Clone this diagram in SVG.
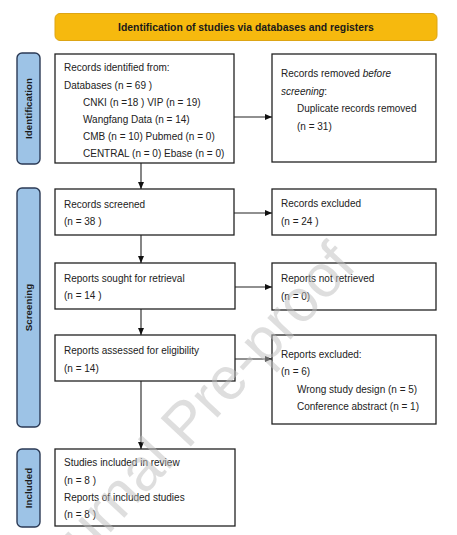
<svg xmlns="http://www.w3.org/2000/svg" width="457" height="535" viewBox="0 0 457 535">
<defs>
<marker id="ah" markerWidth="7" markerHeight="6" refX="7" refY="3" orient="auto" markerUnits="userSpaceOnUse">
<path d="M0,0 L7,3 L0,6 Z" fill="#111"/>
</marker>
<style>
.box{fill:#fff;stroke:#222;stroke-width:1.3}
.side{fill:#9dc3e6;stroke:#2b3a55;stroke-width:1.4}
.t{font-family:"Liberation Sans",Arial,sans-serif;font-size:10px;fill:#222}
.st{font-family:"Liberation Sans",Arial,sans-serif;font-size:9.8px;font-weight:bold;fill:#1a1a1a}
.bt{font-family:"Liberation Sans",Arial,sans-serif;font-size:10.4px;font-weight:bold;fill:#1a1a1a}
.c{stroke:#222;stroke-width:1.1;fill:none;marker-end:url(#ah)}
</style>
</defs>
<rect width="457" height="535" fill="#fff"/>
<g id="banner">
<rect x="55" y="13.5" width="382" height="27" rx="5" fill="#f6b90e" stroke="#dda515" stroke-width="1"/>
<text class="bt" x="246" y="31" text-anchor="middle">Identification of studies via databases and registers</text>
</g>
<g id="side-identification">
<rect class="side" x="17" y="53" width="23" height="111" rx="5"/>
<text class="st" transform="translate(32,108.5) rotate(-90)" text-anchor="middle">Identification</text>
</g>
<g id="side-screening">
<rect class="side" x="17" y="188" width="23" height="239" rx="5"/>
<text class="st" transform="translate(32,307.5) rotate(-90)" text-anchor="middle">Screening</text>
</g>
<g id="side-included">
<rect class="side" x="17" y="449" width="23" height="78" rx="5"/>
<text class="st" transform="translate(32,488) rotate(-90)" text-anchor="middle">Included</text>
</g>
<g id="records-identified">
<rect class="box" x="55" y="54" width="179" height="109"/>
<text class="t" x="64" y="71.2">Records identified from:</text>
<text class="t" x="64" y="88.5">Databases (n = 69 )</text>
<text class="t" x="83" y="105.8">CNKI (n =18 ) VIP (n = 19)</text>
<text class="t" x="83" y="122.8">Wangfang Data (n = 14)</text>
<text class="t" x="83" y="140.2">CMB (n = 10) Pubmed (n = 0)</text>
<text class="t" x="83" y="157.2">CENTRAL (n = 0) Ebase (n = 0)</text>
</g>
<g id="records-removed">
<rect class="box" x="272" y="54" width="164" height="108"/>
<text class="t" x="281" y="77.2">Records removed <tspan font-style="italic">before</tspan></text>
<text class="t" x="281" y="94.5"><tspan font-style="italic">screening</tspan>:</text>
<text class="t" x="297" y="111.8">Duplicate records removed</text>
<text class="t" x="297" y="129.5">(n = 31)</text>
</g>
<g id="records-screened">
<rect class="box" x="55" y="189" width="179" height="46"/>
<text class="t" x="64" y="207.5">Records screened</text>
<text class="t" x="64" y="225.2">(n = 38 )</text>
</g>
<g id="records-excluded">
<rect class="box" x="272" y="189" width="164" height="46"/>
<text class="t" x="281" y="206.8">Records excluded</text>
<text class="t" x="281" y="224.5">(n = 24 )</text>
</g>
<g id="reports-sought">
<rect class="box" x="55" y="263" width="180" height="46"/>
<text class="t" x="64" y="282.2">Reports sought for retrieval</text>
<text class="t" x="64" y="299.2">(n = 14 )</text>
</g>
<g id="reports-not-retrieved">
<rect class="box" x="272" y="263" width="164" height="47"/>
<text class="t" x="281" y="282">Reports not retrieved</text>
<text class="t" x="281" y="299.5">(n = 0)</text>
</g>
<g id="reports-assessed">
<rect class="box" x="55" y="335" width="180" height="46"/>
<text class="t" x="64" y="353.5">Reports assessed for eligibility</text>
<text class="t" x="64" y="371.8">(n = 14)</text>
</g>
<g id="reports-excluded">
<rect class="box" x="272" y="335" width="164" height="89"/>
<text class="t" x="281" y="358.2">Reports excluded:</text>
<text class="t" x="281" y="375.2">(n = 6)</text>
<text class="t" x="297" y="392.5">Wrong study design (n = 5)</text>
<text class="t" x="297" y="409.5">Conference abstract (n = 1)</text>
</g>
<g id="studies-included">
<rect class="box" x="55" y="449" width="180" height="77"/>
<text class="t" x="64" y="465.8">Studies included in review</text>
<text class="t" x="64" y="483.5">(n = 8 )</text>
<text class="t" x="64" y="500.5">Reports of included studies</text>
<text class="t" x="64" y="517.5">(n = 8 )</text>
</g>
<g id="connectors">
<line class="c" x1="234" y1="117" x2="272" y2="117"/>
<line class="c" x1="141" y1="163" x2="141" y2="189"/>
<line class="c" x1="234" y1="213" x2="272" y2="213"/>
<line class="c" x1="141" y1="235" x2="141" y2="263"/>
<line class="c" x1="235" y1="287" x2="272" y2="287"/>
<line class="c" x1="141" y1="309" x2="141" y2="335"/>
<line class="c" x1="235" y1="359" x2="272" y2="359"/>
<line class="c" x1="141" y1="381" x2="141" y2="449"/>
</g>
<g id="watermark">
<text x="0" y="0" transform="translate(42,606) rotate(-47)" font-family="'Liberation Sans',Arial,sans-serif" font-size="60" fill="#bdbdbd" fill-opacity="0.5">Journal Pre-proof</text>
</g>
</svg>
